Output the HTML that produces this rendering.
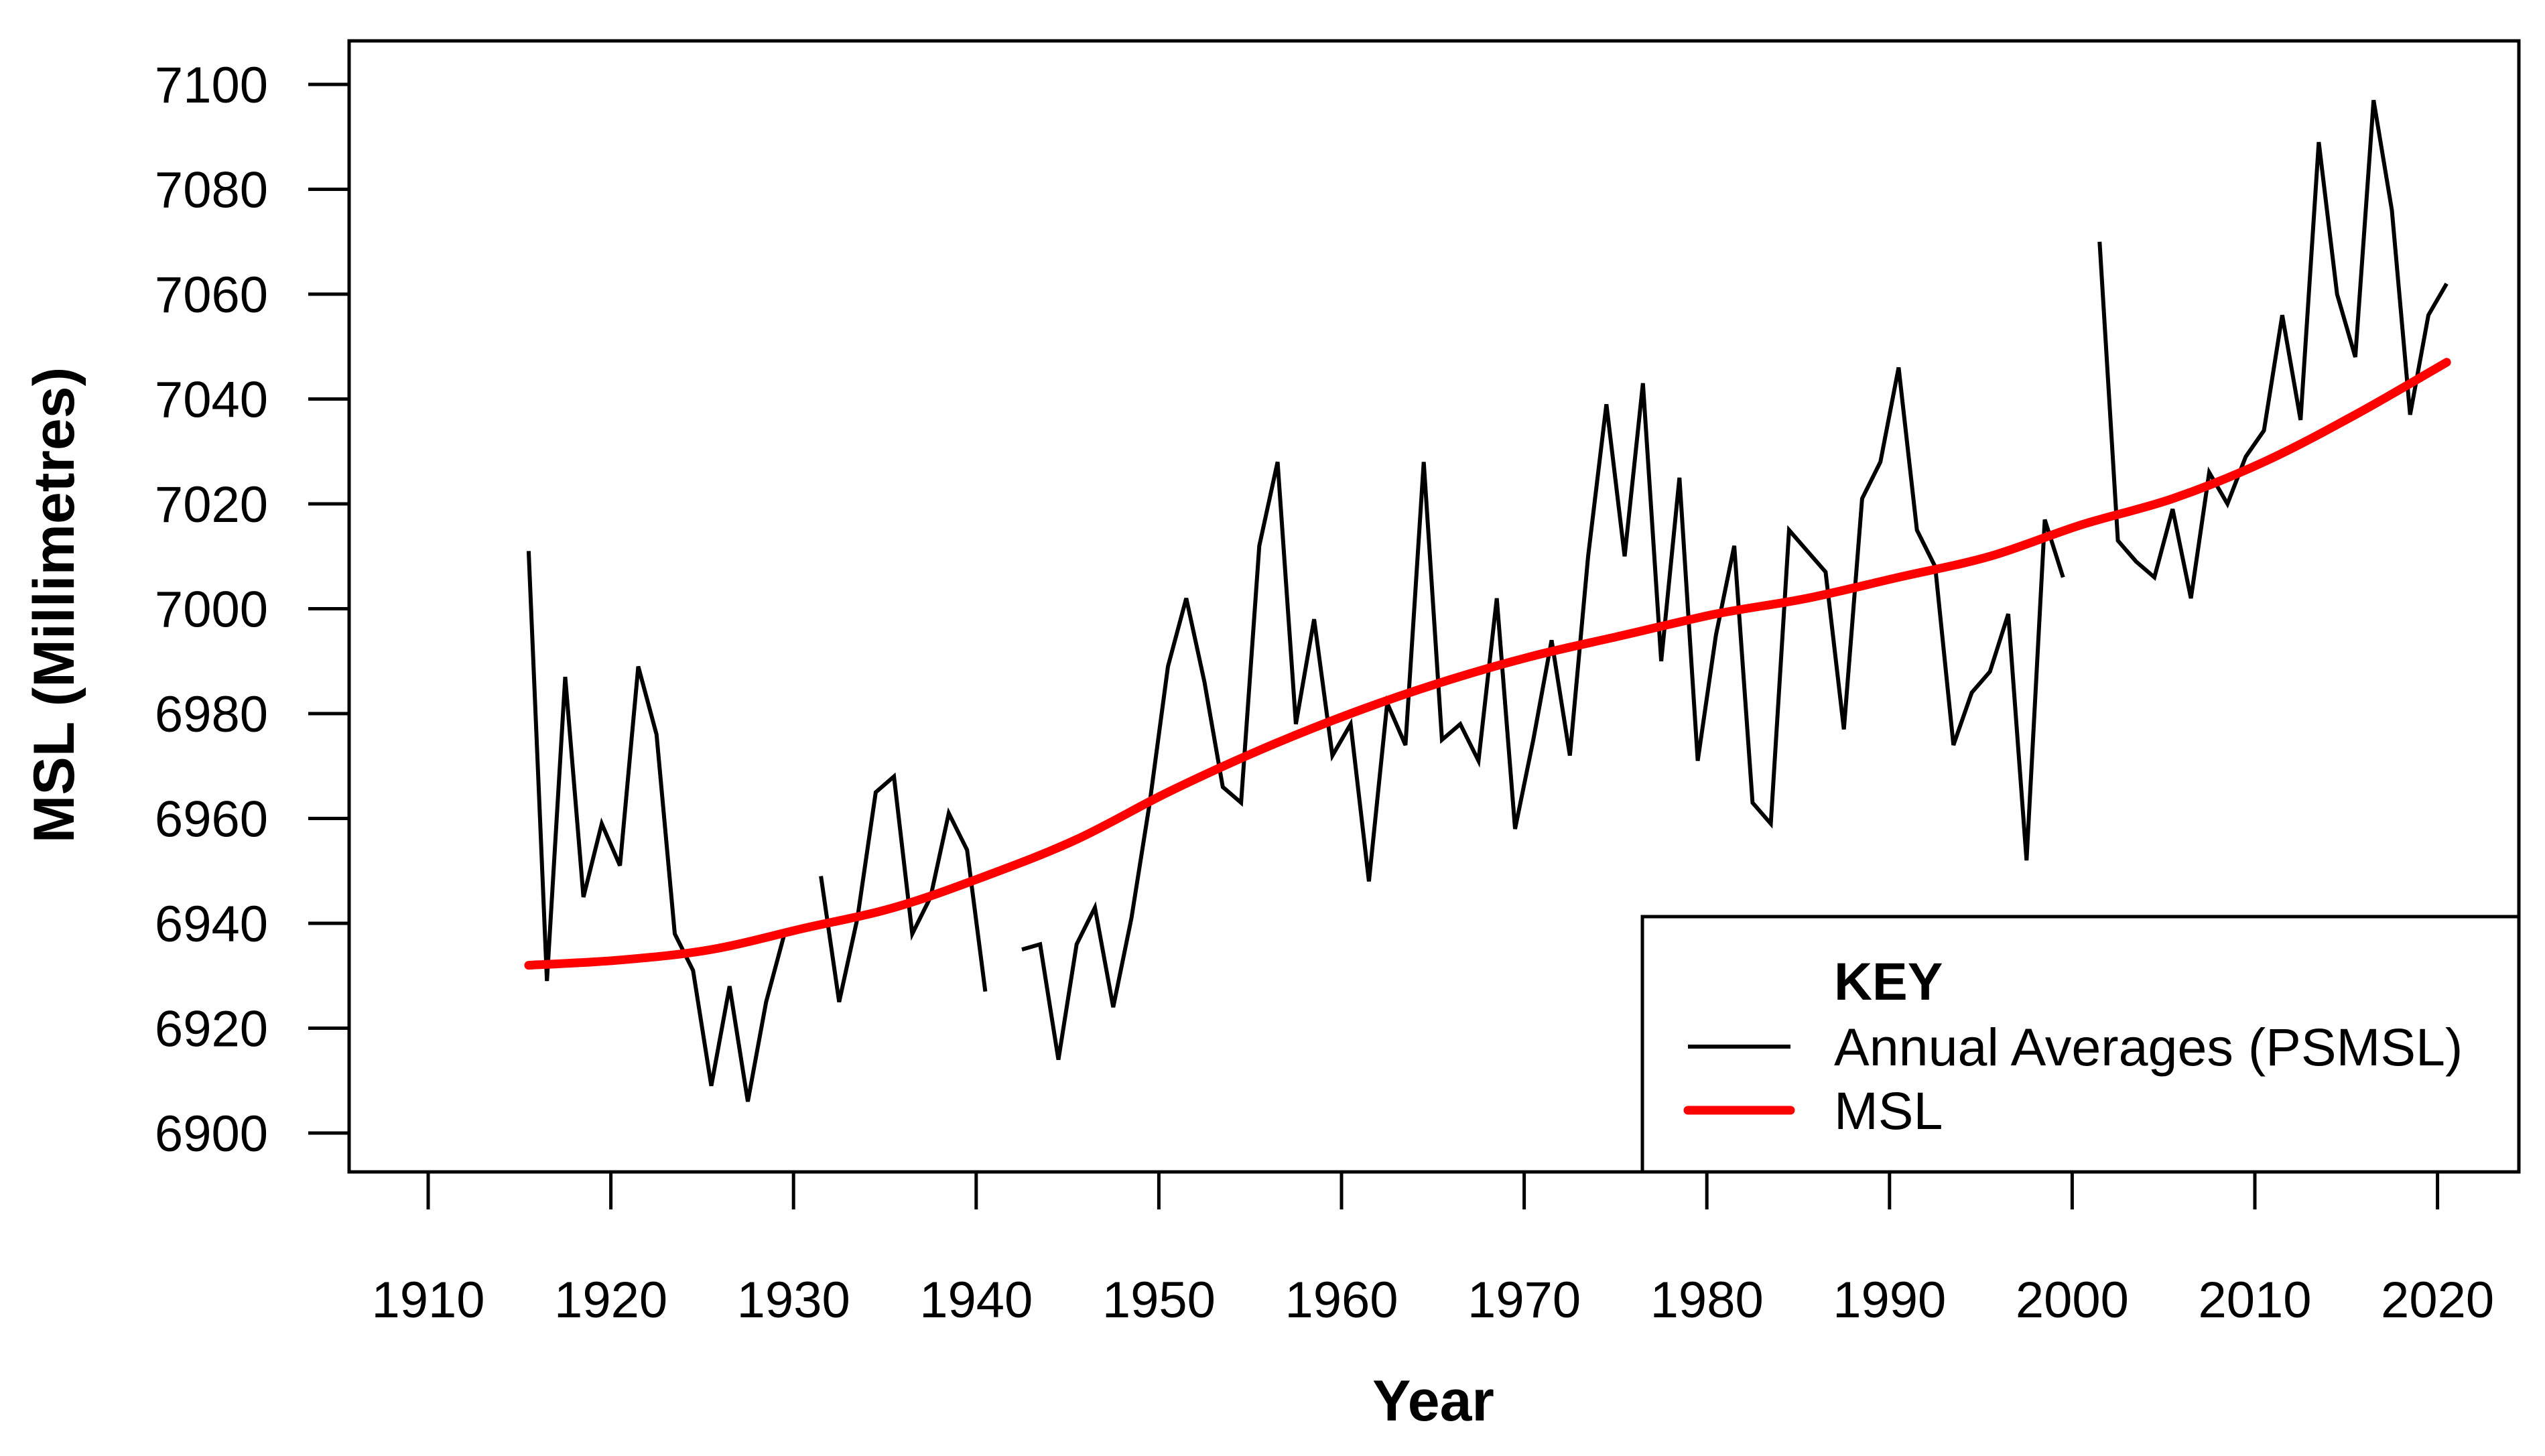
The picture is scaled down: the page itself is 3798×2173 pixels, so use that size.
<!DOCTYPE html>
<html><head><meta charset="utf-8"><style>
html,body{margin:0;padding:0;background:#fff}
svg{display:block;font-family:"Liberation Sans",Arial,sans-serif}
</style></head><body>
<svg id="chart" width="3798" height="2173" viewBox="0 0 3798 2173">
<rect x="0" y="0" width="3798" height="2173" fill="#fff"/>
<g id="axes"></g>
<g id="series"></g>
<rect x="521" y="61" width="3238" height="1688" fill="none" stroke="#000" stroke-width="5"/>
<g>
<rect x="2451" y="1368" width="1308" height="381" fill="#fff" stroke="#000" stroke-width="5"/>
<text x="2737" y="1492" font-size="79" font-weight="bold">KEY</text>
<line x1="2519" y1="1562" x2="2672" y2="1562" stroke="#000" stroke-width="6"/>
<text x="2737" y="1590" font-size="79">Annual Averages (PSMSL)</text>
<line x1="2519" y1="1657" x2="2672" y2="1657" stroke="#ff0000" stroke-width="13" stroke-linecap="round"/>
<text x="2737" y="1685" font-size="79">MSL</text>
</g>
<text x="2139" y="2120" font-size="86" font-weight="bold" text-anchor="middle">Year</text>
<text transform="translate(110,903) rotate(-90)" font-size="86" font-weight="bold" text-anchor="middle">MSL (Millimetres)</text>
</svg>
<script>
const xTicks = [1910,1920,1930,1940,1950,1960,1970,1980,1990,2000,2010,2020];
const yTicks = [6900,6920,6940,6960,6980,7000,7020,7040,7060,7080,7100];
const annualYears = [1915,1916,1917,1918,1919,1920,1921,1922,1923,1924,1925,1926,1927,1928,1929,1930,1931,1932,1933,1934,1935,1936,1937,1938,1939,1940,1941,1942,1943,1944,1945,1946,1947,1948,1949,1950,1951,1952,1953,1954,1955,1956,1957,1958,1959,1960,1961,1962,1963,1964,1965,1966,1967,1968,1969,1970,1971,1972,1973,1974,1975,1976,1977,1978,1979,1980,1981,1982,1983,1984,1985,1986,1987,1988,1989,1990,1991,1992,1993,1994,1995,1996,1997,1998,1999,2000,2001,2002,2003,2004,2005,2006,2007,2008,2009,2010,2011,2012,2013,2014,2015,2016,2017,2018,2019,2020];
const annualValues = [7011,6929,6987,6945,6959,6951,6989,6976,6938,6931,6909,6928,6906,6925,6938,null,6949,6925,6941,6965,6968,6938,6945,6961,6954,6927,null,6935,6936,6914,6936,6943,6924,6941,6963,6989,7002,6986,6966,6963,7012,7028,6978,6998,6972,6978,6948,6982,6974,7028,6975,6978,6971,7002,6958,6975,6994,6972,7010,7039,7010,7043,6990,7025,6971,6995,7012,6963,6959,7015,7011,7007,6977,7021,7028,7046,7015,7008,6974,6984,6988,6999,6952,7017,7006,null,7070,7013,7009,7006,7019,7002,7026,7020,7029,7034,7056,7036,7089,7060,7048,7097,7076,7037,7056,7062];
const mslYears = [1915,1920,1925,1930,1935,1940,1945,1950,1955,1960,1965,1970,1975,1980,1985,1990,1995,2000,2005,2010,2015,2020];
const mslValues = [6932,6933,6935,6939,6943,6949,6956,6965,6973,6980,6986,6991,6995,6999,7002,7006,7010,7016,7021,7028,7037,7047];

const NS = 'http://www.w3.org/2000/svg';
const xs = y => 639 + (y - 1910) * 27.26;
const ys = v => 126 + (7100 - v) * 7.825;
const axes = document.getElementById('axes');
const series = document.getElementById('series');
function mk(tag, attrs, parent){const e=document.createElementNS(NS,tag);for(const k in attrs)e.setAttribute(k,attrs[k]);parent.appendChild(e);return e;}

xTicks.forEach(t=>{
  const l = mk('line',{x1:xs(t),x2:xs(t),y1:1749,y2:1805,stroke:'#000','stroke-width':5},axes);
  
  
  const tx = mk('text',{x:xs(t),y:1966,'font-size':76,'text-anchor':'middle'},axes);
  tx.textContent = t;
  
  
});
yTicks.forEach(t=>{
  const l = mk('line',{x1:460,x2:521,y1:ys(t),y2:ys(t),stroke:'#000','stroke-width':5},axes);
  
  
  const tx = mk('text',{x:400,y:ys(t)+27,'font-size':76,'text-anchor':'end'},axes);
  tx.textContent = t;
  
  
});

let d=''; let pen=false;
annualYears.forEach((yr,i)=>{
  const v = annualValues[i];
  if(v===null){pen=false;return;}
  d += (pen?'L':'M') + xs(yr+0.5).toFixed(1) + ',' + ys(v).toFixed(1);
  pen=true;
});
const ann = mk('path',{d:d,fill:'none',stroke:'#000','stroke-width':6,'stroke-linejoin':'miter'},series);



const pts = mslYears.map((yr,i)=>[xs(yr+0.5), ys(mslValues[i])]);
let md = 'M'+pts[0][0]+','+pts[0][1];
for(let i=0;i<pts.length-1;i++){
  const p0=pts[Math.max(0,i-1)],p1=pts[i],p2=pts[i+1],p3=pts[Math.min(pts.length-1,i+2)];
  const c1=[p1[0]+(p2[0]-p0[0])/6,p1[1]+(p2[1]-p0[1])/6];
  const c2=[p2[0]-(p3[0]-p1[0])/6,p2[1]-(p3[1]-p1[1])/6];
  md += 'C'+c1[0].toFixed(1)+','+c1[1].toFixed(1)+' '+c2[0].toFixed(1)+','+c2[1].toFixed(1)+' '+p2[0].toFixed(1)+','+p2[1].toFixed(1);
}
const msl = mk('path',{d:md,fill:'none',stroke:'#ff0000','stroke-width':13,'stroke-linecap':'round'},series);


</script>
</body></html>
